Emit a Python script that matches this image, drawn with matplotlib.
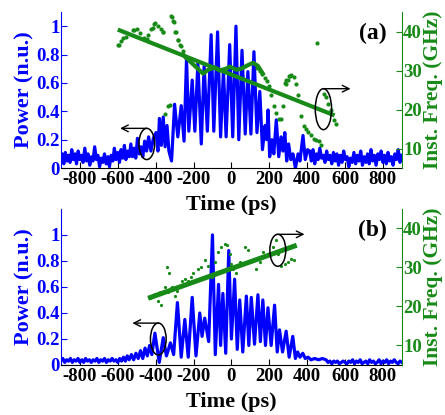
import matplotlib
matplotlib.use("Agg")
import matplotlib.pyplot as plt
from matplotlib.patches import Ellipse

plt.rcParams["font.family"] = ["Liberation Serif", "DejaVu Serif"]
plt.rcParams["font.weight"] = "bold"
plt.rcParams["axes.labelweight"] = "bold"
plt.rcParams["axes.unicode_minus"] = False

BLUE = "#0000ff"
GREEN = "#178a17"

# ---- panel (a): power trace, read peak/trough by peak/trough
time_a = [-900, -893, -885, -877, -868, -860, -852, -843, -835, -826, -818, -809, -800, -791,
          -783, -774, -765, -757, -748, -739, -731, -722, -713, -705, -696, -687, -679, -670,
          -661, -652, -644, -635, -626, -618, -609, -600, -591, -583, -574, -565, -557, -548,
          -539, -531, -522, -513, -505, -496, -487, -478, -468, -458, -448, -437, -425, -412,
          -398, -388, -380, -370, -360, -350, -340, -330, -316, -300, -283, -265, -250, -237,
          -225, -207, -193, -177, -159, -144, -127, -107, -93, -73, -57, -42, -28, -9, 7, 24,
          39, 56, 73, 87, 103, 119, 135, 150, 164, 178, 186, 194, 202, 214, 224, 237, 250, 262,
          272, 282, 292, 302, 314, 325, 338, 352, 362, 378, 390, 402, 413, 422, 431, 440, 449,
          458, 467, 476, 485, 494, 503, 512, 521, 530, 539, 548, 557, 566, 575, 584, 593, 602,
          611, 620, 629, 638, 647, 656, 665, 674, 683, 692, 701, 710, 719, 728, 737, 746, 755,
          764, 773, 782, 791, 800, 809, 818, 827, 836, 845, 854, 863, 872, 881, 890, 900]
power_a = [0.05, 0.10, 0.03, 0.11, 0.05, 0.09, 0.04, 0.13, 0.06, 0.10, 0.03, 0.12, 0.06, 0.09,
           0.04, 0.14, 0.05, 0.10, 0.02, 0.08, 0.05, 0.15, 0.06, 0.09, 0.01, 0.07, 0.04, 0.10,
           0.03, 0.08, 0.01, 0.09, 0.05, 0.14, 0.06, 0.11, 0.04, 0.13, 0.07, 0.16, 0.06, 0.12,
           0.08, 0.17, 0.08, 0.14, 0.07, 0.21, 0.10, 0.15, 0.08, 0.19, 0.12, 0.22, 0.12, 0.21,
           0.25, 0.12, 0.35, 0.16, 0.36, 0.15, 0.30, 0.12, 0.05, 0.45, 0.22, 0.44, 0.19, 0.77,
           0.26, 0.62, 0.26, 0.74, 0.17, 0.72, 0.26, 0.94, 0.26, 0.96, 0.22, 0.69, 0.22, 0.87,
           0.22, 1.00, 0.20, 0.83, 0.24, 0.68, 0.24, 0.82, 0.25, 0.54, 0.13, 0.30, 0.20, 0.41,
           0.08, 0.20, 0.10, 0.34, 0.08, 0.22, 0.12, 0.25, 0.05, 0.17, 0.06, 0.10, 0.00, 0.10,
           0.05, 0.23, 0.06, 0.13, 0.12, 0.05, 0.13, 0.03, 0.10, 0.06, 0.14, 0.07, 0.09, 0.04,
           0.12, 0.06, 0.09, 0.03, 0.11, 0.05, 0.10, 0.02, 0.09, 0.04, 0.12, 0.06, 0.08, 0.01,
           0.07, 0.04, 0.11, 0.03, 0.09, 0.05, 0.12, 0.02, 0.08, 0.04, 0.10, 0.03, 0.13, 0.05,
           0.09, 0.02, 0.10, 0.06, 0.12, 0.04, 0.09, 0.03, 0.11, 0.05, 0.08, 0.02, 0.10, 0.06,
           0.13, 0.04, 0.09]

# panel (a): instantaneous frequency dots
dot_t_a = [-597, -593, -582, -570, -558, -518, -512, -500, -483, -460, -447, -442, -425, -416,
           -409, -404, -390, -372, -363, -360, -351, -334, -325, -321, -316, -311, -304, -298,
           -293, -284, -281, -272, -268, -258, -246, 135, 149, 163, 175, 187, 198, 211, 223,
           237, 251, 263, 272, 281, 286, 289, 298, 302, 307, 316, 329, 342, 354, 368, 382, 395,
           407, 421, 435, 447, 453, 465, 474, 488, 500, 512, 526, 540, 553]
dot_f_a = [36.6, 36.6, 37.6, 38.3, 38.7, 40.4, 40.3, 40.7, 39.6, 38.3, 38.1, 39.2, 40.7, 41.0,
           42.0, 42.1, 41.5, 40.7, 40.0, 39.8, 18.9, 21.0, 21.1, 44.0, 43.6, 42.6, 42.4, 40.0,
           40.0, 37.9, 37.9, 36.6, 36.4, 34.9, 33.4, 30.7, 29.8, 29.0, 28.2, 27.2, 26.0, 23.8,
           21.0, 19.0, 17.6, 17.6, 21.0, 26.9, 26.6, 27.7, 27.7, 28.6, 28.6, 28.8, 28.3, 26.5,
           23.8, 18.4, 15.9, 15.1, 14.2, 13.4, 12.5, 12.1, 37.1, 11.9, 10.8, 23.9, 23.1, 21.4,
           19.9, 17.3, 16.3]

# panel (a): dense (smoothed) frequency and linear fit
smooth_t_a = [-255, -200, -149, -123, -88, -62, -27, -9, 26, 53, 88, 114, 140, 166]
smooth_f_a = [34.1, 31.5, 29.2, 30.2, 30.8, 30.0, 30.5, 31.0, 30.2, 30.5, 31.4, 32.0, 31.2, 29.2]
fit_t_a = [-600, 545]
fit_f_a = [40.5, 18.5]

# ---- panel (b)
time_b = [-900, -890, -880, -870, -860, -850, -840, -830, -820, -810, -800, -790, -780, -770,
          -760, -750, -740, -730, -720, -710, -700, -690, -680, -670, -660, -650, -640, -630,
          -620, -610, -600, -590, -580, -570, -560, -550, -540, -528, -516, -504, -492, -480,
          -468, -456, -444, -432, -420, -404, -381, -360, -343, -322, -305, -285, -265, -246,
          -228, -207, -187, -167, -155, -141, -120, -100, -85, -68, -57, -45, -30, -14, 0, 17,
          31, 44, 60, 79, 92, 105, 122, 140, 153, 166, 180, 193, 210, 228, 242, 254, 270, 289,
          305, 324, 338, 350, 362, 377, 390, 405, 420, 440, 460, 480, 500, 510, 520, 530, 540,
          550, 560, 570, 580, 590, 600, 610, 620, 630, 640, 650, 660, 670, 680, 690, 700, 710,
          720, 730, 740, 750, 760, 770, 780, 790, 800, 810, 820, 830, 840, 850, 860, 870, 880,
          890, 900]
power_b = [0.03, 0.05, 0.02, 0.04, 0.03, 0.05, 0.02, 0.04, 0.03, 0.05, 0.02, 0.04, 0.02, 0.05,
           0.03, 0.04, 0.02, 0.04, 0.03, 0.05, 0.02, 0.04, 0.03, 0.05, 0.02, 0.04, 0.03, 0.05,
           0.03, 0.04, 0.02, 0.05, 0.03, 0.06, 0.03, 0.07, 0.04, 0.08, 0.04, 0.09, 0.05, 0.11,
           0.05, 0.13, 0.07, 0.15, 0.08, 0.245, 0.02, 0.21, 0.07, 0.17, 0.08, 0.48, 0.06, 0.35,
           0.06, 0.52, 0.07, 0.40, 0.22, 0.36, 0.18, 1.00, 0.08, 0.62, 0.15, 0.55, 0.09, 0.88,
           0.20, 0.66, 0.12, 0.50, 0.10, 0.53, 0.15, 0.52, 0.16, 0.54, 0.18, 0.50, 0.15, 0.44,
           0.15, 0.46, 0.10, 0.27, 0.10, 0.26, 0.06, 0.22, 0.05, 0.10, 0.06, 0.09, 0.05, 0.06,
           0.04, 0.05, 0.04, 0.05, 0.04, 0.02, 0.03, 0.01, 0.03, 0.02, 0.03, 0.01, 0.02, 0.03,
           0.02, 0.01, 0.03, 0.02, 0.04, 0.01, 0.03, 0.02, 0.04, 0.01, 0.02, 0.03, 0.01, 0.04,
           0.02, 0.03, 0.01, 0.02, 0.04, 0.01, 0.03, 0.02, 0.04, 0.01, 0.03, 0.02, 0.04, 0.02,
           0.01, 0.03, 0.02]

dot_t_b = [-430, -404, -386, -377, -372, -351, -339, -333, -330, -319, -316, -298, -286, -263,
           -246, -228, -211, -202, -176, -158, -141, -123, -105, -88, -70, -53, -35, -23, -9, 0,
           9, 26, 48, 70, 88, 110, 132, 149, 166, 193, 219, 237, 245, 263, 281, 298, 316, 333]
dot_f_b = [22.3, 23.1, 21.4, 23.6, 20.4, 24.9, 30.0, 23.6, 28.7, 24.7, 24.9, 22.7, 24.0, 26.6,
           27.0, 26.6, 27.5, 28.7, 29.6, 30.0, 31.8, 30.5, 27.5, 31.3, 33.9, 35.2, 36.1, 35.7,
           33.5, 30.9, 29.6, 28.7, 31.5, 35.2, 34.4, 32.0, 29.6, 31.3, 33.9, 33.5, 35.2, 37.0,
           33.5, 30.5, 30.9, 31.3, 32.2, 31.8]
fit_t_b = [-440, 345]
fit_f_b = [22.1, 35.7]

xticks = [-800, -600, -400, -200, 0, 200, 400, 600, 800]

fig = plt.figure(figsize=(4.45, 4.15), dpi=100)


def bold_ticks(ax):
    for lbl in ax.get_xticklabels() + ax.get_yticklabels():
        lbl.set_fontweight("bold")


def make_panel(rect, t, p, ymax, pticks, dots_t, dots_f, dot_ms, fit_t, fit_f, fit_lw, label):
    ax = fig.add_axes(rect)
    ax.patch.set_visible(False)
    ax.plot(t, p, color=BLUE, lw=2.3)
    ax.set_xlim(-900, 900)
    ax.set_ylim(0, ymax)
    ax.set_xticks(xticks)
    ax.set_yticks(pticks)
    ax.set_yticklabels([("%g" % v) for v in pticks])
    ax.tick_params(axis="x", direction="in", length=4, labelsize=13.5, pad=2)
    ax.tick_params(axis="y", direction="in", length=4, labelsize=13.5, colors=BLUE, pad=1)
    ax.set_xlabel("Time (ps)", fontsize=16, fontweight="bold", labelpad=5)
    ax.set_ylabel("Power (n.u.)", fontsize=16, fontweight="bold", color=BLUE, labelpad=1)
    ax.spines["top"].set_visible(False)
    ax.spines["right"].set_visible(False)
    ax.spines["left"].set_color(BLUE)
    bold_ticks(ax)

    ax2 = ax.twinx()
    ax2.plot(dots_t, dots_f, "o", color=GREEN, ms=dot_ms, mec="none")
    ax2.plot(fit_t, fit_f, color=GREEN, lw=fit_lw, solid_capstyle="butt")
    ax2.set_ylim(5, 45)
    ax2.set_yticks([10, 20, 30, 40])
    ax2.tick_params(axis="y", direction="in", length=4, labelsize=13.5, colors=GREEN, pad=1)
    ax2.set_ylabel("Inst. Freq. (GHz)", fontsize=15.5, fontweight="bold", color=GREEN,
                   labelpad=1)
    ax2.spines["right"].set_color(GREEN)
    ax2.spines["top"].set_visible(False)
    ax2.spines["left"].set_visible(False)
    ax2.spines["bottom"].set_visible(False)
    bold_ticks(ax2)
    ax2.text(0.915, 0.86, label, transform=ax2.transAxes, fontsize=17, fontweight="bold",
             ha="center", va="center")
    return ax, ax2


ax_a, ax2_a = make_panel([0.137, 0.595, 0.766, 0.376], time_a, power_a, 1.1,
                         [0, 0.2, 0.4, 0.6, 0.8, 1], dot_t_a, dot_f_a, 3.0,
                         fit_t_a, fit_f_a, 3.0, "(a)")
ax2_a.plot(smooth_t_a, smooth_f_a, color=GREEN, lw=3.0)

ax_b, ax2_b = make_panel([0.137, 0.1205, 0.766, 0.376], time_b, power_b, 1.2,
                         [0, 0.2, 0.4, 0.6, 0.8, 1], dot_t_b, dot_f_b, 2.3,
                         fit_t_b, fit_f_b, 3.6, "(b)")

arrow = dict(arrowstyle="->", color="k", lw=1.0, mutation_scale=12, shrinkA=0, shrinkB=0)

# ellipse + arrow markers (which axis each trace belongs to)
ax_a.add_patch(Ellipse((-447, 0.17), 83, 0.22, fill=False, ec="k", lw=1.1, zorder=5))
ax_a.annotate("", xy=(-588, 0.28), xytext=(-447, 0.28), arrowprops=arrow)
ax2_a.add_patch(Ellipse((486, 20.1), 86, 10.5, fill=False, ec="k", lw=1.1, zorder=5))
ax2_a.annotate("", xy=(629, 25.35), xytext=(486, 25.35), arrowprops=arrow)

ax_b.add_patch(Ellipse((-386, 0.2), 83, 0.245, fill=False, ec="k", lw=1.1, zorder=5))
ax_b.annotate("", xy=(-523, 0.322), xytext=(-386, 0.322), arrowprops=arrow)
ax2_b.add_patch(Ellipse((245, 34.4), 84, 8.2, fill=False, ec="k", lw=1.1, zorder=5))
ax2_b.annotate("", xy=(386, 38.5), xytext=(245, 38.5), arrowprops=arrow)

fig.savefig("out.png", dpi=100)
